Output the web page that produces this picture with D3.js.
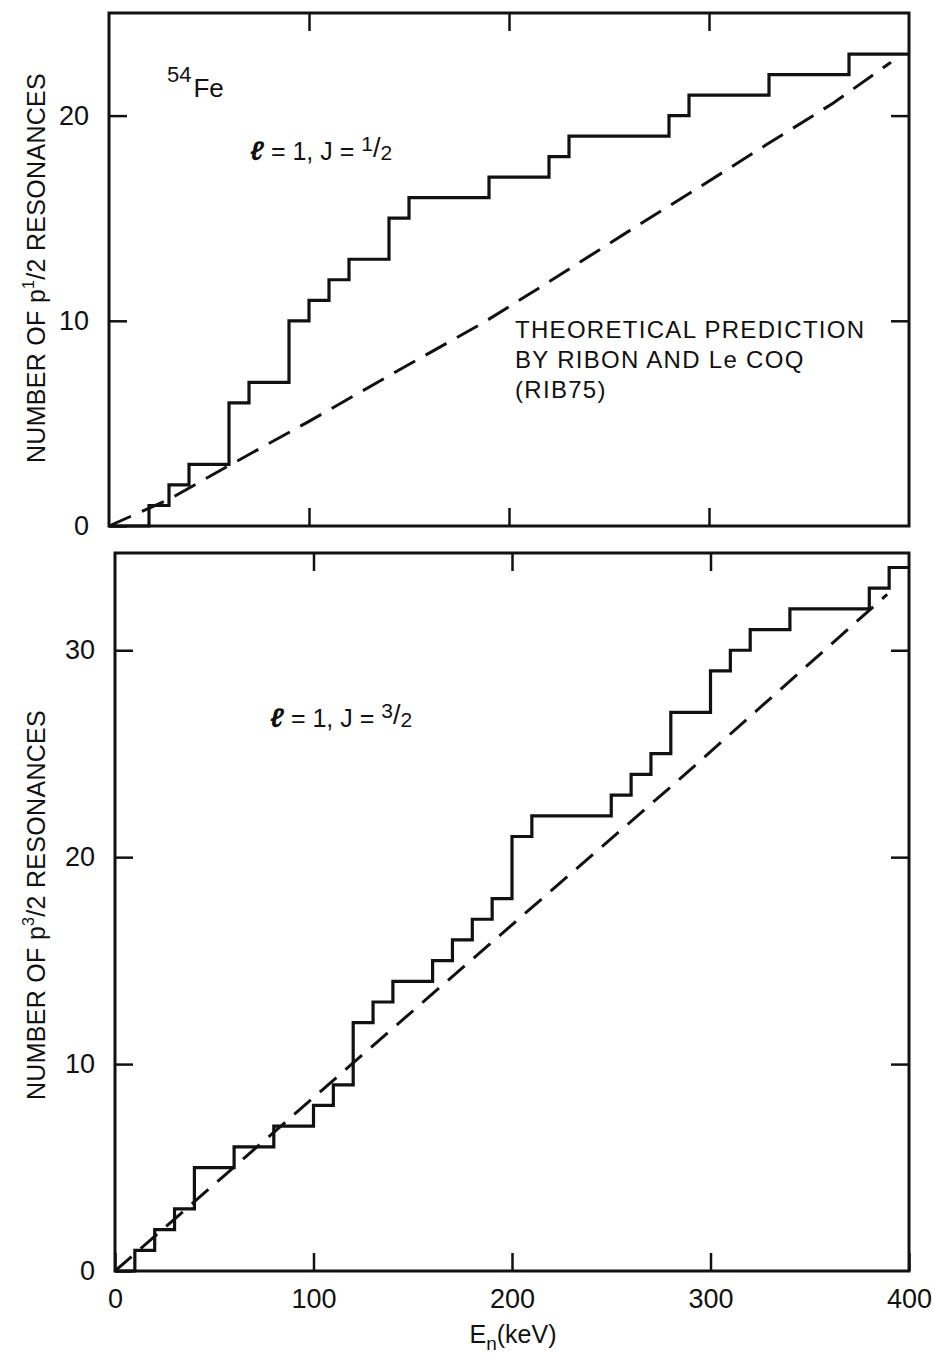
<!DOCTYPE html>
<html>
<head>
<meta charset="utf-8">
<script src="https://cdnjs.cloudflare.com/ajax/libs/d3/7.8.5/d3.min.js"></script>
<style>
  body { margin: 0; background: #fff; }
  svg { display: block; font-family: "Liberation Sans", Arial, sans-serif; }
</style>
</head>
<body>
<div id="chart"></div>
<script>
// Size of the page
const width = 933;
const height = 1355;

// Tick labels
const energyTicks = [0, 100, 200, 300, 400];
const topCountTicks = [0, 10, 20];
const bottomCountTicks = [0, 10, 20, 30];

// l=1, J=1/2 : cumulative number of resonances (steps)
const topStepEnergy = [0, 20, 30, 40, 60, 70, 90, 100, 110, 120, 140, 150, 190, 220, 230, 280, 290, 330, 370, 400];
const topStepCount  = [0, 1, 2, 3, 6, 7, 10, 11, 12, 13, 15, 16, 17, 18, 19, 20, 21, 22, 23, 23];

// theoretical prediction (dashed)
const topTheoryEnergy = [0, 30, 61, 100, 145, 187, 220, 262, 295, 329, 362, 391];
const topTheoryCount  = [0, 1.3, 3.0, 5.1, 7.6, 9.9, 11.9, 14.5, 16.5, 18.6, 20.6, 22.6];

// l=1, J=3/2
const bottomStepEnergy = [0, 10, 20, 30, 40, 60, 80, 100, 110, 120, 130, 140, 160, 170, 180, 190, 200, 210, 250, 260, 270, 280, 300, 310, 320, 340, 380, 390, 400];
const bottomStepCount  = [0, 1, 2, 3, 5, 6, 7, 8, 9, 12, 13, 14, 15, 16, 17, 18, 21, 22, 23, 24, 25, 27, 29, 30, 31, 32, 33, 34, 34];

const bottomTheoryEnergy = [0, 142, 286, 389];
const bottomTheoryCount  = [0, 11.9, 23.9, 32.7];

const ink = "#111";

const svg = d3.select("#chart")
  .append("svg")
  .attr("width", width)
  .attr("height", height);

svg.append("rect")
  .attr("width", width)
  .attr("height", height)
  .attr("fill", "#fff");

function drawPanel(p) {
  const x = d3.scaleLinear().domain([0, 400]).range(p.xRange);
  const y = d3.scaleLinear().domain(p.yDomain).range(p.yRange);
  const g = svg.append("g");

  // ticks point inward on all four sides
  const inner = energyTicks.filter(d => d > 0 && d < 400);

  g.append("g")
    .attr("transform", `translate(${p.xRange[0]},0)`)
    .call(d3.axisLeft(y).tickValues(p.countTicks).tickSize(-18).tickPadding(20));

  g.append("g")
    .attr("transform", `translate(${p.xRange[1]},0)`)
    .call(d3.axisRight(y).tickValues(p.countTicks.filter(d => d > 0)).tickSize(-18).tickFormat(""));

  g.append("g")
    .attr("transform", `translate(0,${p.yRange[1]})`)
    .call(d3.axisTop(x).tickValues(inner).tickSize(-18).tickFormat(""));

  g.append("g")
    .attr("transform", `translate(0,${p.yRange[0]})`)
    .call(d3.axisBottom(x).tickValues(p.showEnergy ? energyTicks : inner)
      .tickSize(-18).tickPadding(18).tickFormat(p.showEnergy ? null : ""));

  g.selectAll(".domain").remove();
  g.selectAll(".tick line").attr("stroke", ink).attr("stroke-width", 2.5);
  g.selectAll(".tick text").attr("fill", ink).style("font-size", "27px").style("font-family", null);

  // frame
  g.append("rect")
    .attr("x", p.xRange[0])
    .attr("y", p.yRange[1])
    .attr("width", p.xRange[1] - p.xRange[0])
    .attr("height", p.yRange[0] - p.yRange[1])
    .attr("fill", "none")
    .attr("stroke", ink)
    .attr("stroke-width", 3);

  const line = d3.line().x(d => x(d[0])).y(d => y(d[1]));

  g.append("path")
    .datum(d3.zip(p.theoryEnergy, p.theoryCount))
    .attr("d", line)
    .attr("fill", "none")
    .attr("stroke", ink)
    .attr("stroke-width", 3)
    .attr("stroke-dasharray", p.dash);

  g.append("path")
    .datum(d3.zip(p.stepEnergy, p.stepCount))
    .attr("d", line.curve(d3.curveStepAfter))
    .attr("fill", "none")
    .attr("stroke", ink)
    .attr("stroke-width", 3.2)
    .attr("stroke-linejoin", "miter");
}

drawPanel({
  xRange: [109, 909], yRange: [526, 13], yDomain: [0, 25],
  countTicks: topCountTicks, showEnergy: false,
  stepEnergy: topStepEnergy, stepCount: topStepCount,
  theoryEnergy: topTheoryEnergy, theoryCount: topTheoryCount,
  dash: "24,12"
});

drawPanel({
  xRange: [115, 909], yRange: [1271, 553], yDomain: [0, 34.7],
  countTicks: bottomCountTicks, showEnergy: true,
  stepEnergy: bottomStepEnergy, stepCount: bottomStepCount,
  theoryEnergy: bottomTheoryEnergy, theoryCount: bottomTheoryCount,
  dash: "22,12"
});

// y axis titles
function yTitle(cx, cy, sup) {
  const t = svg.append("text")
    .attr("transform", `translate(${cx},${cy}) rotate(-90)`)
    .attr("text-anchor", "middle")
    .attr("fill", ink)
    .style("font-size", "25px")
    .style("letter-spacing", "0.3px");
  t.append("tspan").text("NUMBER OF  p");
  t.append("tspan").attr("dy", -11).style("font-size", "16px").text(sup);
  t.append("tspan").attr("dy", 11).text("/2  RESONANCES");
}
yTitle(45, 268, "1");
yTitle(45, 905, "3");

// 54Fe
const fe = svg.append("text").attr("x", 167).attr("y", 82).attr("fill", ink);
fe.append("tspan").style("font-size", "22px").text("54");
fe.append("tspan").attr("dx", 2).attr("dy", 15).style("font-size", "26px").text("Fe");

// l=1, J=n/2 labels
function spinLabel(lx, ly, num) {
  const t = svg.append("text").attr("x", lx).attr("y", ly).attr("fill", ink).style("font-size", "25px");
  t.append("tspan").style("font-style", "italic").style("font-weight", "bold").style("font-size", "27px").text("ℓ");
  t.append("tspan").text(" = 1,  J = ");
  t.append("tspan").attr("dy", -9).style("font-size", "21px").text(num);
  t.append("tspan").attr("dy", 6).style("font-size", "27px").text("/");
  t.append("tspan").attr("dy", 3).style("font-size", "21px").text("2");
}
spinLabel(250, 160, "1");
spinLabel(270, 727, "3");

// theory annotation
const note = ["THEORETICAL PREDICTION", "BY RIBON AND Le COQ", "(RIB75)"];
svg.append("g").selectAll("text")
  .data(note)
  .enter().append("text")
  .attr("x", 515)
  .attr("y", (d, i) => 338 + i * 30)
  .attr("fill", ink)
  .style("font-size", "24px")
  .style("letter-spacing", "1.3px")
  .text(d => d);

// x axis title
const xt = svg.append("text").attr("x", 513).attr("y", 1343).attr("text-anchor", "middle")
  .attr("fill", ink).style("font-size", "25px");
xt.append("tspan").text("E");
xt.append("tspan").attr("dy", 7).style("font-size", "19px").text("n");
xt.append("tspan").attr("dy", -7).text("(keV)");
</script>
</body>
</html>
